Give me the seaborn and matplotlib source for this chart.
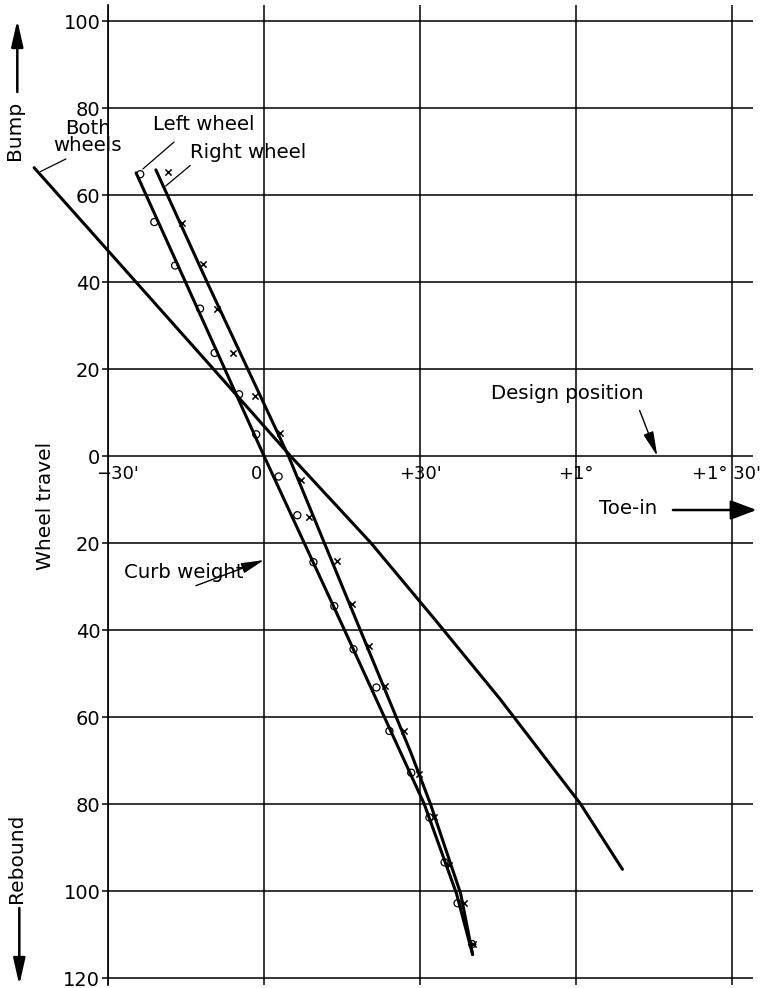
import numpy as np
import pandas as pd
import matplotlib
matplotlib.use("Agg")
import matplotlib.pyplot as plt
import seaborn as sns

# toe angle in minutes of arc vs wheel travel (mm, bump +, rebound -)
both_x = [-44.2, -9.65, 5.1, 20.5, 33.0, 45.4, 60.8, 68.9]
both_y = [66.3, 19.9, 0, -19.9, -37.8, -55.9, -79.9, -95.0]

left_x = [-24.6, -12.3, 0, 15.7, 30.8, 37.0, 40.1]
left_y = [65.1, 32.6, 0, -40.6, -80.0, -100.6, -114.6]

right_x = [-20.8, -10.8, 4.7, 28.2, 32.0, 37.8, 40.1]
right_y = [65.8, 39.6, 0, -68.1, -80.0, -100.6, -114.6]

left_pts_x = [-23.8, -21.1, -17.1, -12.3, -9.5, -4.8, -1.5, 2.8, 6.4, 9.5, 13.5, 17.2,
              21.6, 24.1, 28.3, 31.8, 34.7, 37.2, 40.0]
left_pts_y = [64.8, 53.8, 43.8, 33.9, 23.7, 14.2, 5.0, -4.7, -13.6, -24.4, -34.5, -44.4,
              -53.2, -63.2, -72.8, -83.1, -93.4, -102.8, -112.2]

right_pts_x = [-18.5, -15.8, -11.8, -9.1, -5.9, -1.8, 3.0, 7.1, 8.6, 14.0, 17.0, 20.2,
               23.2, 26.9, 29.8, 32.7, 35.6, 38.4, 40.2]
right_pts_y = [65.2, 53.6, 44.1, 33.7, 23.7, 13.8, 5.2, -5.4, -14.0, -24.2, -33.9, -43.6,
               -52.9, -63.2, -73.0, -82.9, -94.0, -102.7, -112.1]

x_ticks = [-30, 0, 30, 60, 90]
x_tick_labels = ["\u221230'", "0", "+30'", "+1\u00b0", "+1\u00b0 30'"]
y_ticks = list(range(-120, 101, 20))
y_tick_labels = [str(abs(v)) for v in y_ticks]

sns.set_theme(style="white")
plt.rcParams["font.family"] = ["DejaVu Sans"]

W, H = 766, 988
fig = plt.figure(figsize=(W / 100, H / 100), dpi=100)
ax = fig.add_axes([108 / W, 3 / H, 645 / W, 980 / H])


def fx(px):
    return px / W


def fy(py):
    return 1 - py / H


ink = "black"

# curves
sns.lineplot(x=both_x, y=both_y, sort=False, estimator=None, color=ink, lw=2.2,
             ax=ax, clip_on=False)
sns.lineplot(x=left_x, y=left_y, sort=False, estimator=None, color=ink, lw=2.2, ax=ax)
sns.lineplot(x=right_x, y=right_y, sort=False, estimator=None, color=ink, lw=2.2, ax=ax)

# measured points
sns.scatterplot(x=left_pts_x, y=left_pts_y, marker="o", s=26, facecolors="none",
                edgecolor=ink, linewidth=0.9, ax=ax, zorder=4)
sns.scatterplot(x=right_pts_x, y=right_pts_y, marker="x", s=20, color=ink,
                linewidth=1.1, ax=ax, zorder=4)

ax.set_xlim(-30, 94)
ax.set_ylim(-121.6, 103.7)
ax.set_xticks(x_ticks)
ax.set_xticklabels([])
ax.set_yticks(y_ticks)
ax.set_yticklabels(y_tick_labels)
ax.grid(True, color=ink, lw=1.1)
ax.set_axisbelow(True)
for s in ["top", "right", "bottom"]:
    ax.spines[s].set_visible(False)
ax.spines["left"].set_color(ink)
ax.spines["left"].set_linewidth(1.2)
ax.tick_params(axis="x", length=0)
ax.tick_params(axis="y", length=4, width=1.1, color=ink, direction="out",
               labelsize=14, pad=1.5, labelcolor=ink, left=True)
ax.set_xlabel("")
ax.set_ylabel("")

# x tick labels sit under the zero line
xlab_pos = [-28.2, -1.4, 30, 60, 89.0]
for xp, lab in zip(xlab_pos, x_tick_labels):
    ax.text(xp, -4.2, lab, ha="center", va="center", fontsize=13, color=ink)

fs = 14.2
thin = dict(arrowstyle="-", lw=0.9, color=ink, shrinkA=0, shrinkB=0)

ax.text(-33.9, 73.3, "Both\nwheels", ha="center", va="center", fontsize=fs,
        linespacing=0.9, color=ink)
ax.annotate("", xy=(-43.0, 65.4), xytext=(-38.1, 68.3), arrowprops=thin,
            annotation_clip=False)

ax.text(-11.5, 76.2, "Left wheel", ha="center", va="center", fontsize=fs, color=ink)
ax.annotate("", xy=(-23.3, 66.0), xytext=(-17.3, 72.2), arrowprops=thin)

ax.text(-3.0, 69.7, "Right wheel", ha="center", va="center", fontsize=fs, color=ink)
ax.annotate("", xy=(-18.9, 62.1), xytext=(-14.2, 66.8), arrowprops=thin)

ax.text(58.2, 14.4, "Design position", ha="center", va="center", fontsize=fs, color=ink)
ax.annotate("", xy=(75.6, 0), xytext=(72.2, 10.5),
            arrowprops=dict(arrowstyle="-|>,head_length=0.75,head_width=0.16",
                            mutation_scale=20, lw=1.0, color=ink, shrinkA=0, shrinkB=0))

ax.text(-15.5, -26.8, "Curb weight", ha="center", va="center", fontsize=fs, color=ink)
ax.annotate("", xy=(0, -23.9), xytext=(-13.1, -29.8),
            arrowprops=dict(arrowstyle="-|>,head_length=0.7,head_width=0.16",
                            mutation_scale=20, lw=1.0, color=ink, shrinkA=0, shrinkB=0))

ax.text(69.9, -12.0, "Toe-in", ha="center", va="center", fontsize=fs, color=ink)
ax.annotate("", xy=(94.7, -12.4), xytext=(78.6, -12.4), annotation_clip=False,
            arrowprops=dict(arrowstyle="-|>,head_length=0.8,head_width=0.3",
                            mutation_scale=20, lw=1.8, color=ink, shrinkA=0, shrinkB=0))

# axis titles on the left
fig.text(fx(15), fy(130), "Bump", rotation=90, ha="center", va="center",
         fontsize=14.5, color=ink)
ax.annotate("", xy=(fx(17.3), fy(20)), xytext=(fx(17.3), fy(92)),
            xycoords="figure fraction", textcoords="figure fraction",
            annotation_clip=False,
            arrowprops=dict(arrowstyle="-|>,head_length=0.8,head_width=0.18",
                            mutation_scale=20, lw=1.8, color=ink, shrinkA=0, shrinkB=0))

fig.text(fx(45.5), fy(506), "Wheel travel", rotation=90, ha="center", va="center",
         fontsize=14.5, color=ink)

fig.text(fx(17), fy(858), "Rebound", rotation=90, ha="center", va="center",
         fontsize=14.5, color=ink)
ax.annotate("", xy=(fx(19.3), fy(985)), xytext=(fx(19.3), fy(908)),
            xycoords="figure fraction", textcoords="figure fraction",
            annotation_clip=False,
            arrowprops=dict(arrowstyle="-|>,head_length=0.8,head_width=0.18",
                            mutation_scale=20, lw=1.8, color=ink, shrinkA=0, shrinkB=0))

fig.savefig("out.png", dpi=100, facecolor="white")
